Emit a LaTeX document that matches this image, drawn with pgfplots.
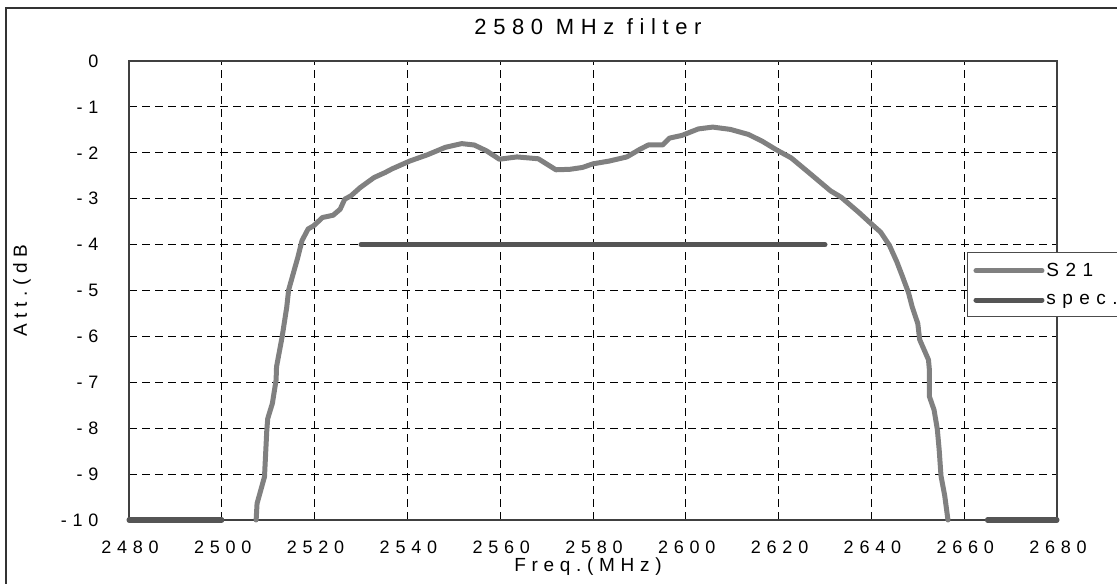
\documentclass[border=0pt]{standalone}
\usepackage{fontspec}
\setmainfont{Liberation Sans}
\newfontfamily\tickf[LetterSpace=32]{Liberation Sans}
\newfontfamily\labf[LetterSpace=30]{Liberation Sans}
\newfontfamily\legf[LetterSpace=34]{Liberation Sans}
\usepackage{pgfplots}
\pgfplotsset{compat=1.18}
\definecolor{sgray}{RGB}{128,128,128}
\definecolor{specc}{RGB}{85,85,85}
\begin{document}
\begin{tikzpicture}
\useasboundingbox (0,0) rectangle (1117bp,584bp);
\draw[line width=1.3bp, black!80] (6bp,576bp) rectangle (1140bp,-20bp);
\begin{axis}[
    at={(129bp,64bp)}, anchor=south west,
    scale only axis,
    width=928bp, height=459bp,
    xmin=2480, xmax=2680, ymin=-10, ymax=0,
    xtick={2480,2500,...,2680},
    xticklabels={2480,2500,2520,2540,2560,2580,2600,2620,2640,2660,2680},
    ytick={-10,-9,...,0},
    yticklabels={-10,-9,-8,-7,-6,-5,-4,-3,-2,-1,0},
    major tick length=0pt,
    ticklabel style={font=\tickf\fontsize{18bp}{20bp}\selectfont},
    yticklabel style={anchor=east, xshift=-27bp},
    xticklabel style={anchor=north, yshift=-17bp, xshift=1bp},
    grid=major,
    major grid style={black, line width=0.8bp, dash pattern=on 8bp off 5bp},
    axis line style={black!75, line width=1.2bp},
    clip=false,
    title={2580 MHz filter},
    title style={font=\labf\fontsize{22bp}{24bp}\selectfont, at={(axis description cs:0.4946,1)}, anchor=center, yshift=28bp},
    xlabel={Freq.(MHz)},
    xlabel style={font=\labf\fontsize{19bp}{21bp}\selectfont, at={(axis description cs:0.4946,0)}, anchor=center, yshift=-47bp},
    ylabel={Att.(dB},
    ylabel style={font=\labf\fontsize{19bp}{21bp}\selectfont, at={(axis description cs:-0.1153,0.50)}, anchor=center},
    unbounded coords=jump,
    legend style={at={(axis description cs:0.903,0.584)}, anchor=north west,
        draw=black!70, line width=1bp, fill=white,
        font=\legf\fontsize{19bp}{21bp}\selectfont,
        inner xsep=6bp, inner ysep=9bp, row sep=12bp},
    legend cell align=left,
    legend image code/.code={\draw[#1, line cap=round] (0bp,0bp) -- (66bp,0bp);},
]
\addplot[sgray, line width=5bp, line cap=round, line join=round] coordinates {
(2507.4,-10) (2507.6,-9.64) (2509.2,-9.06) (2509.7,-8.04) (2509.9,-7.79)
(2510.9,-7.46) (2511.7,-6.95) (2511.8,-6.66) (2513.0,-6.01) (2514.0,-5.36)
(2514.4,-4.99) (2515.9,-4.45) (2516.3,-4.31) (2517.3,-3.91) (2518.6,-3.66)
(2519.8,-3.59) (2521.7,-3.41) (2524.0,-3.36) (2525.5,-3.23) (2526.5,-3.01)
(2527.8,-2.94) (2529.8,-2.76) (2532.8,-2.54) (2535.2,-2.43) (2536.7,-2.35)
(2540.5,-2.18) (2544.4,-2.04) (2548.2,-1.88) (2551.7,-1.80) (2554.4,-1.83)
(2557.1,-1.96) (2559.8,-2.14) (2563.6,-2.09) (2568.2,-2.13) (2572.0,-2.37)
(2575.0,-2.36) (2577.7,-2.32) (2580.0,-2.24) (2583.5,-2.18) (2587.3,-2.09)
(2590.0,-1.93) (2591.9,-1.83) (2595.0,-1.83) (2596.5,-1.68) (2599.2,-1.62)
(2602.7,-1.48) (2605.8,-1.44) (2609.6,-1.49) (2613.5,-1.60) (2616.5,-1.75)
(2619.6,-1.94) (2622.7,-2.11) (2626.5,-2.43) (2631.2,-2.83) (2633.5,-2.97)
(2637.3,-3.30) (2640.0,-3.55) (2642.0,-3.73) (2643.9,-4.02) (2645.5,-4.38)
(2646.6,-4.67) (2648.0,-5.05) (2648.8,-5.36) (2650.0,-5.72) (2650.4,-6.07)
(2652.3,-6.51) (2652.5,-6.73) (2652.5,-7.31) (2653.5,-7.60) (2654.2,-8.02)
(2654.6,-8.46) (2655.0,-9.04) (2655.8,-9.47) (2656.5,-10)
};
\addlegendentry{\makebox[80bp][l]{S21}}
\addplot[specc, line width=5bp, line cap=round] coordinates {
(2480,-10) (2500,-10) (2515,nan) (2530,-4) (2630,-4) (2650,nan) (2665,-10) (2680,-10)
};
\addlegendentry{\makebox[80bp][l]{spec.}}
\end{axis}
\end{tikzpicture}
\end{document}
